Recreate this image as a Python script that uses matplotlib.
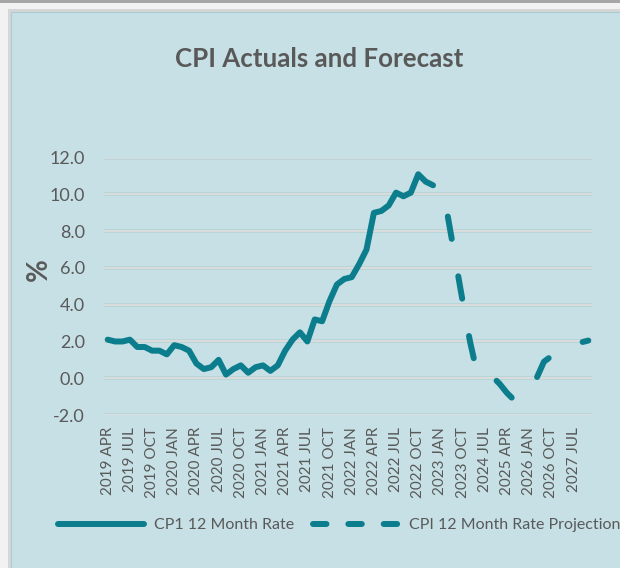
import matplotlib
matplotlib.use("Agg")
import matplotlib.pyplot as plt
from matplotlib.lines import Line2D
from matplotlib.patches import Rectangle

# ---------------- data ----------------
months = ['JAN', 'FEB', 'MAR', 'APR', 'MAY', 'JUN', 'JUL', 'AUG', 'SEP', 'OCT', 'NOV', 'DEC']
monthly_categories = ([f"2019 {m}" for m in months[3:]] +
                      [f"{y} {m}" for y in (2020, 2021, 2022) for m in months] +
                      ["2023 JAN"])
quarterly_categories = ['2023 APR', '2023 JUL', '2023 OCT', '2024 JAN', '2024 APR', '2024 JUL',
                        '2024 OCT', '2025 JAN', '2025 APR', '2025 JUL', '2025 OCT', '2026 JAN',
                        '2026 APR', '2026 JUL', '2026 OCT', '2027 JAN', '2027 APR', '2027 JUL',
                        '2027 OCT', '2028 JAN']
categories = monthly_categories + quarterly_categories

# CPI 12 month rate, 2019 APR .. 2022 DEC
actual = [2.1, 2.0, 2.0, 2.1, 1.7, 1.7, 1.5, 1.5, 1.3,
          1.8, 1.7, 1.5, 0.8, 0.5, 0.6, 1.0, 0.2, 0.5, 0.7, 0.3, 0.6,
          0.7, 0.4, 0.7, 1.5, 2.1, 2.5, 2.0, 3.2, 3.1, 4.2, 5.1, 5.4,
          5.5, 6.2, 7.0, 9.0, 9.1, 9.4, 10.1, 9.9, 10.1, 11.1, 10.7, 10.5]
# projection, 2023 APR .. 2028 JAN (quarterly)
projection = [8.8, 6.5, 4.2, 2.0, 0.2, 0.1, 0.1, -0.3, -0.8, -1.2,
              -1.1, -0.7, 0.0, 0.9, 1.2, 1.45, 1.7, 1.85, 1.95, 2.05]

tick_labels = ['2019 APR', '2019 JUL', '2019 OCT', '2020 JAN', '2020 APR', '2020 JUL',
               '2020 OCT', '2021 JAN', '2021 APR', '2021 JUL', '2021 OCT', '2022 JAN',
               '2022 APR', '2022 JUL', '2022 OCT', '2023 JAN', '2023 OCT', '2024 JUL',
               '2025 APR', '2026 JAN', '2026 OCT', '2027 JUL']
yticks = [-2.0, 0.0, 2.0, 4.0, 6.0, 8.0, 10.0, 12.0]

series_labels = ['CP1 12 Month Rate', 'CPI 12 Month Rate Projection']
title = 'CPI Actuals and Forecast'

# ---------------- style ----------------
W, H = 620, 568
BG = '#c6e0e5'
TEAL = '#0b7d8c'
GREY_TXT = '#595959'
FONT = ['Lato', 'DejaVu Sans']
plt.rcParams['font.family'] = FONT

fig = plt.figure(figsize=(W / 100, H / 100), dpi=100, facecolor='#f2f2f2')

# frame decorations (figure pixel coords -> fractions)
def frect(x0, y0, x1, y1, **kw):
    fig.patches.append(Rectangle((x0 / W, 1 - y1 / H), (x1 - x0) / W, (y1 - y0) / H,
                                 transform=fig.transFigure, zorder=-5, **kw))

frect(0, 0, W, 2.5, facecolor='#a6a6a6', edgecolor='none')
frect(7.5, 9, W + 5, H + 5, facecolor='#d6d6d6', edgecolor='none')
frect(10.5, 12, W + 5, H + 5, facecolor=BG, edgecolor='#a8cdd3', linewidth=0.8)

left, right, top, bottom = 104, 592, 157.7, 415
ax = fig.add_axes([left / W, 1 - bottom / H, (right - left) / W, (bottom - top) / H])
ax.set_zorder(2)
ax.set_facecolor('none')

x_actual = [categories.index(c) for c in monthly_categories[:len(actual)]]
x_proj = [categories.index(c) for c in quarterly_categories[:len(projection)]]

LW = 4.3
ax.plot(x_actual, actual, color=TEAL, lw=LW, solid_capstyle='round',
        solid_joinstyle='round', zorder=3)
ax.plot(x_proj, projection, color=TEAL, lw=LW, dashes=(3.8, 6.36),
        dash_capstyle='round', dash_joinstyle='round', zorder=3)

ax.set_xlim(-0.5, len(categories) - 0.5)
ax.set_ylim(-2, 12)
ax.set_yticks(yticks)
ax.set_yticklabels([f"{v:.1f}" for v in yticks], fontsize=13, color=GREY_TXT)
ax.set_xticks([categories.index(t) for t in tick_labels])
ax.set_xticklabels(tick_labels, rotation=90, fontsize=11, color=GREY_TXT)
ax.tick_params(axis='x', length=0, pad=8.6)
ax.tick_params(axis='y', length=0, pad=13.7)
for s in ax.spines.values():
    s.set_visible(False)
for v in yticks:
    ax.axhline(v, color='#b5d3d8', lw=2.6, zorder=1)
    ax.axhline(v, color='#dcdcdc', lw=1.4, zorder=1.5)

ax.set_ylabel('%', fontsize=20, fontweight='bold', color=GREY_TXT, rotation=90)
ax.yaxis.set_label_coords((52 - left) / (right - left), (bottom - 269.5) / (bottom - top))

fig.text(319 / W, 1 - 66.7 / H, title, ha='center', va='baseline', fontsize=18.6,
         fontweight='bold', color=GREY_TXT)

h1 = Line2D([], [], color=TEAL, lw=LW, solid_capstyle='round')
h2 = Line2D([], [], color=TEAL, lw=LW, dashes=(2.25, 3.67), dash_capstyle='round')
leg = fig.legend([h1, h2], series_labels, loc='center left',
                 bbox_to_anchor=(58 / W, 1 - 525 / H), ncol=2, frameon=False,
                 fontsize=11.5, handlelength=5.38, handletextpad=0.62, columnspacing=1.2,
                 borderpad=0, borderaxespad=0)
for t in leg.get_texts():
    t.set_color(GREY_TXT)

fig.savefig('out.png', dpi=100, facecolor=fig.get_facecolor())
